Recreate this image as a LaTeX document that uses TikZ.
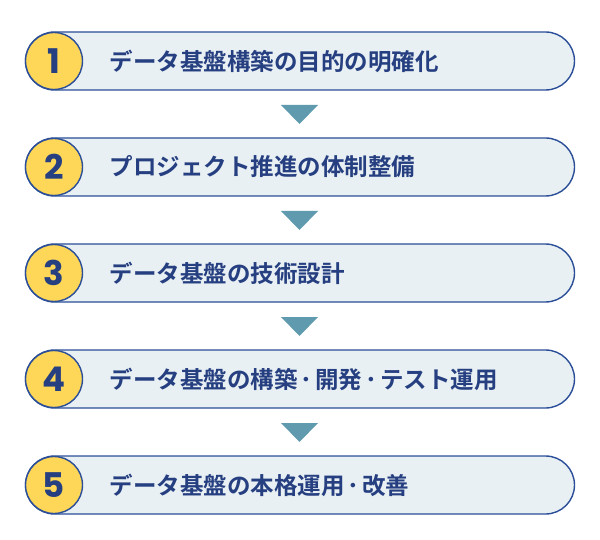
\documentclass[tikz,border=0pt]{standalone}
\usepackage{fontspec}
\newfontfamily\cjk{Noto Sans CJK JP}[BoldFont={Noto Sans CJK JP Bold}]
\setsansfont{Poppins}
\definecolor{pillfill}{HTML}{E8F0F4}
\definecolor{navy}{HTML}{2B4E98}
\definecolor{txt}{HTML}{263F80}
\definecolor{yel}{HTML}{FED758}
\definecolor{tri}{HTML}{5F9AAE}
\newcommand{\ndot}{\hspace{3pt}･\hspace{3pt}}
\begin{document}
\begin{tikzpicture}[x=1pt,y=-1pt,
  pill/.style={draw=navy,line width=1.4pt,fill=pillfill,rounded corners=29pt,minimum width=549pt,minimum height=58pt,inner sep=0pt},
  num/.style={circle,draw=navy,line width=1.4pt,fill=yel,minimum size=57pt,inner sep=0pt,font=\sffamily\bfseries\fontsize{34}{34}\selectfont,text=txt},
  lbl/.style={anchor=west,font=\cjk\bfseries\fontsize{23.5}{23.5}\selectfont,text=txt},
  arrowtri/.style={fill=tri}]
\useasboundingbox (0,0) rectangle (600,540);
\foreach \i/\t in {1/データ基盤構築の目的の明確化,2/プロジェクト推進の体制整備,3/データ基盤の技術設計,4/データ基盤の構築\ndot 開発\ndot テスト運用,5/データ基盤の本格運用\ndot 改善}{
  \pgfmathsetmacro{\yy}{61+106*(\i-1)}
  \node[pill] (p\i) at (300,\yy) {};
  \node[num] (n\i) at (54,\yy) {\i};
  \node[lbl] (t\i) at (106,\yy) {\t};
}
\foreach \i in {1,...,4}{
  \pgfmathsetmacro{\ty}{105+106*(\i-1)}
  \fill[tri] (281,\ty) -- (318,\ty) -- (299.5,\ty+19) -- cycle;
}
\end{tikzpicture}
\end{document}
